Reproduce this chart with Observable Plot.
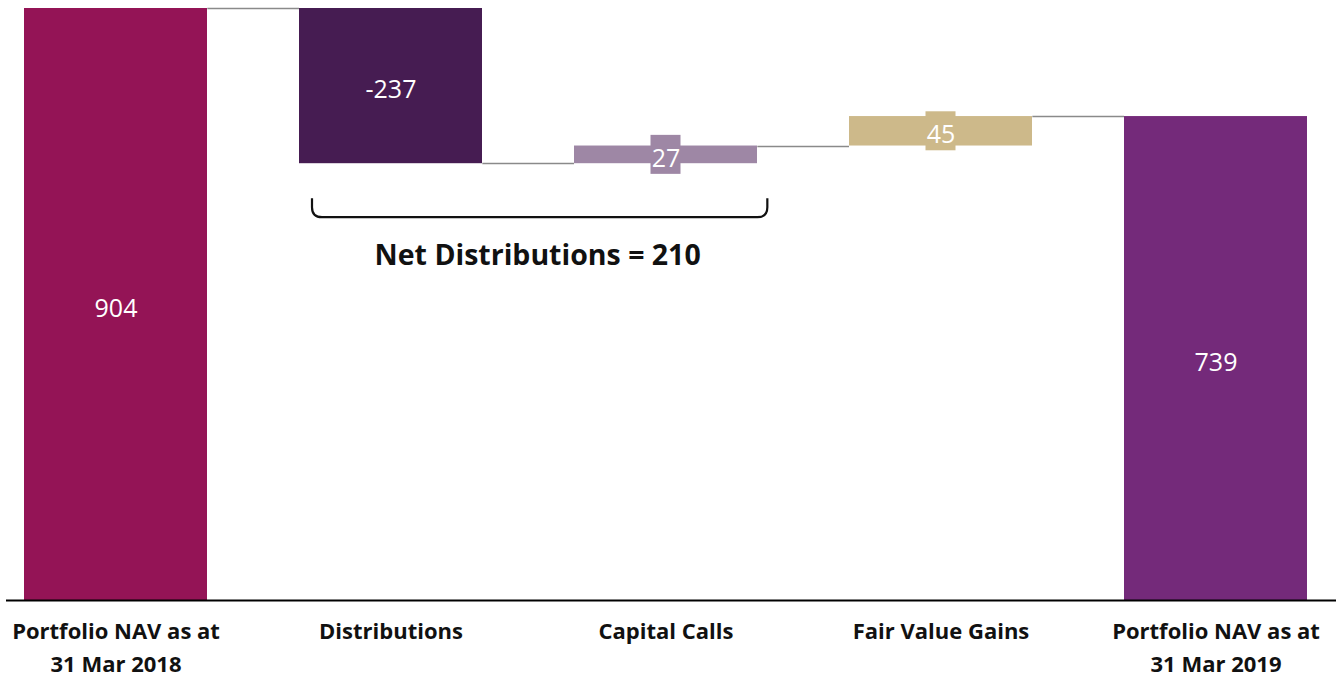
<!DOCTYPE html>
<html>
<head>
<meta charset="utf-8">
<script src="https://cdn.jsdelivr.net/npm/d3@7"></script>
<script src="https://cdn.jsdelivr.net/npm/@observablehq/plot@0.6"></script>
<style>
  html, body { margin: 0; padding: 0; background: #ffffff; }
  #chart svg { display: block; }
</style>
</head>
<body>
<div id="chart"></div>
<script>
// ---- data ----
const categories = [
  "Portfolio NAV as at\n31 Mar 2018",
  "Distributions",
  "Capital Calls",
  "Fair Value Gains",
  "Portfolio NAV as at\n31 Mar 2019"
];
const values = [904, -237, 27, 45, 739];
const kinds = ["total", "delta", "delta", "delta", "total"];
const palette = ["#941456", "#461C52", "#9E87A5", "#CDB98A", "#742A7A"];
const bracketCategories = ["Distributions", "Capital Calls"];
const bracketLabel = "Net Distributions";

// ---- derived waterfall table ----
let running = 0;
const rows = categories.map((cat, i) => {
  let y1, y2;
  if (kinds[i] === "total") { y1 = 0; y2 = values[i]; running = values[i]; }
  else { y1 = running; y2 = running + values[i]; running = y2; }
  return { cat, value: values[i], y1, y2, mid: (y1 + y2) / 2, small: Math.abs(values[i]) < 100 };
});
const netValue = -bracketCategories.reduce((s, c) => s + values[categories.indexOf(c)], 0);

const padInner = 1 / 3;

// connectors + bracket annotation drawn through the plot's scales
function annotations(index, scales) {
  const x = scales.x, y = scales.y;
  const step = x(categories[1]) - x(categories[0]);
  const bw = step * (1 - padInner);
  const g = d3.create("svg:g");
  for (let i = 0; i < rows.length - 1; i++) {
    const yy = Math.round(y(rows[i].y2)) + 0.5;
    g.append("line")
      .attr("x1", x(rows[i].cat) + bw).attr("x2", x(rows[i + 1].cat))
      .attr("y1", yy).attr("y2", yy)
      .attr("stroke", "#8a8a8a").attr("stroke-width", 1.5);
  }
  const bi0 = categories.indexOf(bracketCategories[0]);
  const bi1 = categories.indexOf(bracketCategories[1]);
  const lowest = Math.min(rows[bi0].y1, rows[bi0].y2, rows[bi1].y1, rows[bi1].y2);
  const left = x(categories[bi0]) + 13;
  const right = x(categories[bi1]) + bw + 10;
  const top = y(lowest) + 35;
  const bottom = y(lowest) + 54;
  const r = 10;
  g.append("path")
    .attr("d", `M${left},${top} V${bottom - r} Q${left},${bottom} ${left + r},${bottom} H${right - r} Q${right},${bottom} ${right},${bottom - r} V${top}`)
    .attr("fill", "none").attr("stroke", "#111").attr("stroke-width", 2.2);
  g.append("text")
    .attr("x", (left + right) / 2 - 2).attr("y", bottom + 48)
    .attr("text-anchor", "middle")
    .attr("font-family", "'Open Sans', sans-serif")
    .attr("font-size", 28.5).attr("font-weight", "bold").attr("fill", "#111")
    .text(`${bracketLabel} = ${netValue}`);
  return g.node();
}

const chart = Plot.plot({
  width: 1336,
  height: 684,
  marginTop: 8,
  marginBottom: 84,
  marginLeft: 6,
  marginRight: 0,
  style: { fontFamily: "'Open Sans', Lato, sans-serif", background: "#ffffff" },
  x: { domain: categories, paddingInner: padInner, paddingOuter: 0.0761, align: 0.381, label: null },
  y: { domain: [0, 904], axis: null },
  color: { domain: categories, range: palette },
  marks: [
    Plot.barY(rows, { x: "cat", y1: "y1", y2: "y2", fill: "cat" }),
    Plot.barY(rows.filter(d => d.small), {
      x: "cat", y1: "mid", y2: "mid", fill: "cat",
      insetLeft: 76.5, insetRight: 76.5, insetTop: -19.5, insetBottom: -19.5
    }),
    Plot.text(rows, {
      x: "cat", y: "mid", text: d => String(d.value),
      fill: "#ffffff", fontSize: 25, dy: 4
    }),
    annotations,
    Plot.ruleY([0], { stroke: "#000", strokeWidth: 2 }),
    Plot.axisX({
      tickSize: 0, tickPadding: 15, fontSize: 22, fontWeight: "bold",
      lineHeight: 1.5, fill: "#111", label: null
    })
  ]
});
document.getElementById("chart").append(chart);
</script>
</body>
</html>
